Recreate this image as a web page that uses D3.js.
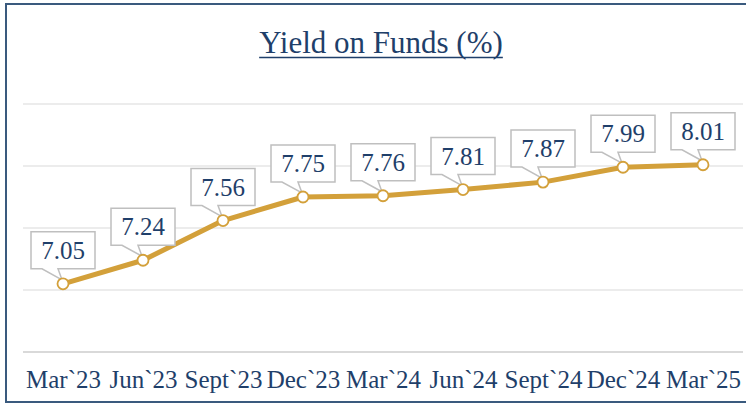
<!DOCTYPE html>
<html>
<head>
<meta charset="utf-8">
<script src="https://cdn.jsdelivr.net/npm/d3@7"></script>
<style>
  html, body { margin: 0; padding: 0; background: #fff; }
  svg { display: block; }
</style>
</head>
<body>
<div id="chart"></div>
<script>
// Yield on Funds chart

const width = 746;
const height = 405;

// data
const categories = ["Mar`23", "Jun`23", "Sept`23", "Dec`23", "Mar`24", "Jun`24", "Sept`24", "Dec`24", "Mar`25"];
const yieldValues = [7.05, 7.24, 7.56, 7.75, 7.76, 7.81, 7.87, 7.99, 8.01];
const yTicks = [6.5, 7, 7.5, 8, 8.5];

const navy = "#1f3f6a";
const gold = "#d3a03a";
const font = "'Liberation Serif', 'Times New Roman', serif";

const svg = d3.select("#chart")
  .append("svg")
  .attr("width", width)
  .attr("height", height);

svg.append("rect")
  .attr("width", width).attr("height", height)
  .attr("fill", "#fff");

// outer frame
svg.append("rect")
  .attr("x", 6).attr("y", 4)
  .attr("width", 752).attr("height", 398)
  .attr("fill", "none")
  .attr("stroke", "#3a5a7e")
  .attr("stroke-width", 2);

const x = d3.scalePoint()
  .domain(categories)
  .range([23, 743])
  .padding(0.5);

const y = d3.scaleLinear()
  .domain([6.5, 8.5])
  .range([352, 104]);

// gridlines
svg.append("g")
  .selectAll("line")
  .data(yTicks)
  .enter().append("line")
  .attr("x1", 23).attr("x2", 743)
  .attr("y1", d => y(d)).attr("y2", d => y(d))
  .attr("stroke", d => d === 6.5 ? "#d9d9d9" : "#ececec")
  .attr("stroke-width", 2);

// x axis labels
const xAxis = d3.axisBottom(x).tickSize(0).tickPadding(0);
const xg = svg.append("g")
  .attr("transform", "translate(0,352)")
  .call(xAxis);
xg.select(".domain").remove();
xg.selectAll("text")
  .attr("y", 36)
  .attr("dy", null)
  .attr("fill", navy)
  .style("font-family", font)
  .style("font-size", "25px");

// title
const title = svg.append("text")
  .attr("x", 381).attr("y", 53)
  .attr("text-anchor", "middle")
  .attr("fill", navy)
  .style("font-family", font)
  .style("font-size", "31px")
  .text("Yield on Funds (%)");
const tw = title.node().getComputedTextLength();
svg.append("line")
  .attr("x1", 381 - tw / 2).attr("x2", 381 + tw / 2)
  .attr("y1", 57.5).attr("y2", 57.5)
  .attr("stroke", navy)
  .attr("stroke-width", 1.6);

// line
const line = d3.line()
  .x((d, i) => x(categories[i]))
  .y(d => y(d));

svg.append("path")
  .datum(yieldValues)
  .attr("d", line)
  .attr("fill", "none")
  .attr("stroke", gold)
  .attr("stroke-width", 5)
  .attr("stroke-linejoin", "round");

// callout labels
const boxW = 64, boxH = 37, gap = 15;
const callouts = svg.append("g")
  .selectAll("g")
  .data(yieldValues)
  .enter().append("g");

callouts.append("path")
  .attr("d", (d, i) => {
    const cx = x(categories[i]);
    const py = y(d);
    const b = py - gap, t = b - boxH;
    const l = cx - boxW / 2, r = cx + boxW / 2;
    return `M${l},${t}H${r}V${b}H${cx - 5}L${cx - 1},${py - 4}L${cx - 21},${b}H${l}Z`;
  })
  .attr("fill", "#fff")
  .attr("stroke", "#bfbfbf")
  .attr("stroke-width", 1.5);

callouts.append("text")
  .attr("x", (d, i) => x(categories[i]))
  .attr("y", d => y(d) - gap - 10)
  .attr("text-anchor", "middle")
  .attr("fill", navy)
  .style("font-family", font)
  .style("font-size", "25px")
  .text(d => d.toFixed(2));

// markers
svg.append("g")
  .selectAll("circle")
  .data(yieldValues)
  .enter().append("circle")
  .attr("cx", (d, i) => x(categories[i]))
  .attr("cy", d => y(d))
  .attr("r", 5.5)
  .attr("fill", "#fff")
  .attr("stroke", gold)
  .attr("stroke-width", 1.8);
</script>
</body>
</html>
